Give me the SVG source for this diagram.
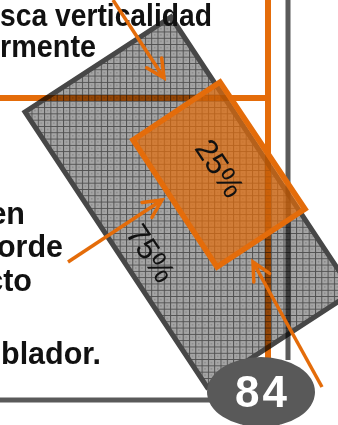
<svg xmlns="http://www.w3.org/2000/svg" width="338" height="425" viewBox="0 0 338 425">
<style>
.txt{font-family:"Liberation Sans",Arial,sans-serif;font-weight:bold;font-size:30.5px;fill:#111}
.pct{font-family:"Liberation Sans",Arial,sans-serif;font-size:31px;fill:#111;text-anchor:middle}
.oline{stroke:#e46c0a;stroke-width:6;fill:none}
.gline{stroke:#5a5a5a;stroke-width:5;fill:none}
.arrow{stroke:#e46c0a;stroke-width:3.5;fill:none;marker-end:url(#head)}
</style>
<defs>
<pattern id="grid" width="6.3" height="6.3" patternUnits="userSpaceOnUse">
<rect width="6.3" height="6.3" fill="#a5a5a5"/>
<path d="M0,0.5 H6.3 M0.5,0 V6.3" stroke="#505050" stroke-width="1"/>
<rect x="3" y="3" width="1" height="1" fill="#6a6a6a"/>
</pattern>
<marker id="head" markerUnits="userSpaceOnUse" markerWidth="30" markerHeight="30" refX="0" refY="0" viewBox="-22 -15 30 30" orient="auto" overflow="visible">
<path d="M-18,-9 L0,0 L-18,9" stroke="#e46c0a" stroke-width="3.5" fill="none" stroke-linecap="round" stroke-linejoin="miter"/>
</marker>
</defs>
<rect width="338" height="425" fill="#fff"/>
<g id="guides">
<path class="oline" d="M0,98 H271"/>
<path class="oline" d="M268,0 V360"/>
<path class="gline" d="M288,0 V360"/>
<path class="gline" d="M0,400 H215"/>
</g>
<g id="node-base" style="mix-blend-mode:multiply">
<polygon points="171,17 353,292 207,387 25,112" fill="url(#grid)" stroke="#474747" stroke-width="5"/>
</g>
<g id="node-area">
<polygon points="220,82 305,209 217,267 133,140" fill="#e46c0a" fill-opacity="0.7" stroke="#e46c0a" stroke-width="5.5"/>
</g>
<g id="label-25">
<text class="pct" transform="translate(220,168) rotate(56.5)" dy="0.35em">25%</text>
</g>
<g id="label-75">
<text class="pct" transform="translate(151,253) rotate(56.5)" dy="0.35em">75%</text>
</g>
<g id="text-top">
<text class="txt" x="0" y="26" textLength="212" lengthAdjust="spacingAndGlyphs">sca verticalidad</text>
<text class="txt" x="0" y="57" textLength="96" lengthAdjust="spacingAndGlyphs">rmente</text>
</g>
<g id="text-left">
<text class="txt" x="25" y="224" text-anchor="end">en</text>
<text class="txt" x="63" y="257" text-anchor="end">orde</text>
<text class="txt" x="32" y="291" text-anchor="end">cto</text>
<text class="txt" x="101" y="364" text-anchor="end">blador.</text>
</g>
<g id="connectors">
<path class="arrow" d="M113,0 L164,78"/>
<path class="arrow" d="M68,262 L162,200"/>
<path class="arrow" d="M322,387 L253,262"/>
</g>
<g id="badge">
<ellipse cx="261" cy="392" rx="54" ry="35" fill="#595959"/>
<text x="262.5" y="407" fill="#fff" font-family="Liberation Sans,Arial,sans-serif" font-weight="bold" font-size="44" letter-spacing="3" text-anchor="middle">84</text>
</g>
</svg>
